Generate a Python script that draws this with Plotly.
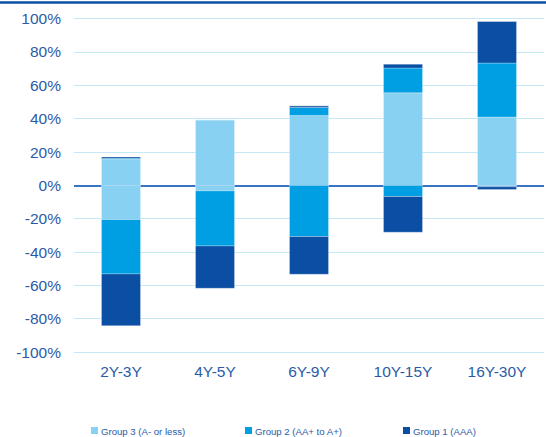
import plotly.graph_objects as go

categories = ["2Y-3Y", "4Y-5Y", "6Y-9Y", "10Y-15Y", "16Y-30Y"]
series_names = ["Group 3 (A- or less)", "Group 2 (AA+ to A+)", "Group 1 (AAA)"]
# positive contributions (fractions)
g3_pos = [0.158, 0.394, 0.42, 0.556, 0.41]
g2_pos = [0.005, 0.0, 0.048, 0.148, 0.324]
g1_pos = [0.008, 0.0, 0.01, 0.024, 0.25]
# negative contributions (fractions)
g3_neg = [-0.204, -0.032, 0.0, 0.0, -0.008]
g2_neg = [-0.326, -0.33, -0.306, -0.066, 0.0]
g1_neg = [-0.31, -0.254, -0.226, -0.214, -0.016]
colors = ["#89D1F3", "#009FE3", "#0A4FA3"]
tick_vals = [-1.0, -0.8, -0.6, -0.4, -0.2, 0.0, 0.2, 0.4, 0.6, 0.8, 1.0]
tick_text = ["-100%", "-80%", "-60%", "-40%", "-20%", "0%", "20%", "40%", "60%", "80%", "100%"]

FONT = "Arial, 'Liberation Sans', sans-serif"
TXT = "#2B5BA8"

W, H = 546, 437
ML, MR, MT, MB = 74, 2, 17, 83
PW = W - ML - MR
PH = H - MT - MB


def px_x(p):
    return (p - ML) / PW


def px_y(p):
    return (H - MB - p) / PH


fig = go.Figure()
pos = [g3_pos, g2_pos, g1_pos]
neg = [g3_neg, g2_neg, g1_neg]
for i, name in enumerate(series_names):
    fig.add_trace(go.Bar(
        x=categories, y=pos[i], name=name, showlegend=False,
        marker=dict(color=colors[i], line=dict(color="rgba(255,255,255,0.35)", width=0.8)),
    ))
for i, name in enumerate(series_names):
    fig.add_trace(go.Bar(
        x=categories, y=neg[i], name=name, showlegend=False,
        marker=dict(color=colors[i], line=dict(color="rgba(255,255,255,0.35)", width=0.8)),
    ))

# legend drawn as key squares + labels below the plot
legend_sq_x = [91, 245, 403]
shapes = [dict(type="line", xref="paper", yref="paper",
               x0=px_x(0), x1=px_x(W), y0=px_y(2.5), y1=px_y(2.5),
               line=dict(color="#0A4FA3", width=2.5))]
annotations = []
for i, name in enumerate(series_names):
    sx = legend_sq_x[i]
    shapes.append(dict(type="rect", xref="paper", yref="paper",
                       x0=px_x(sx), x1=px_x(sx + 7), y0=px_y(434), y1=px_y(427),
                       fillcolor=colors[i], line=dict(width=0)))
    annotations.append(dict(xref="paper", yref="paper", x=px_x(sx + 8), y=px_y(431),
                            xanchor="left", yanchor="middle", showarrow=False,
                            text=name, font=dict(size=9.6, color=TXT, family=FONT)))

fig.update_layout(
    width=W, height=H,
    margin=dict(l=ML, r=MR, t=MT, b=MB),
    barmode="relative",
    bargap=0.585,
    paper_bgcolor="white",
    plot_bgcolor="white",
    font=dict(family=FONT, color=TXT),
    showlegend=False,
    xaxis=dict(
        showgrid=False, showline=False, ticks="",
        tickfont=dict(size=15.5, color=TXT, family=FONT),
        ticklabelstandoff=6,
    ),
    yaxis=dict(
        range=[-1.01, 1.01],
        tickvals=tick_vals, ticktext=tick_text,
        showgrid=True, gridcolor="#C5E8F7", gridwidth=1.2,
        zeroline=True, zerolinecolor="#3A74C4", zerolinewidth=2,
        tickfont=dict(size=15.5, color=TXT, family=FONT),
        ticklabelstandoff=12,
        showline=False,
    ),
    shapes=shapes,
    annotations=annotations,
)

fig.write_html(
    "out.html",
    config={"displayModeBar": False},
    post_script="document.body.style.margin='0';document.body.style.padding='0';"
                "document.body.style.overflow='hidden';",
)
